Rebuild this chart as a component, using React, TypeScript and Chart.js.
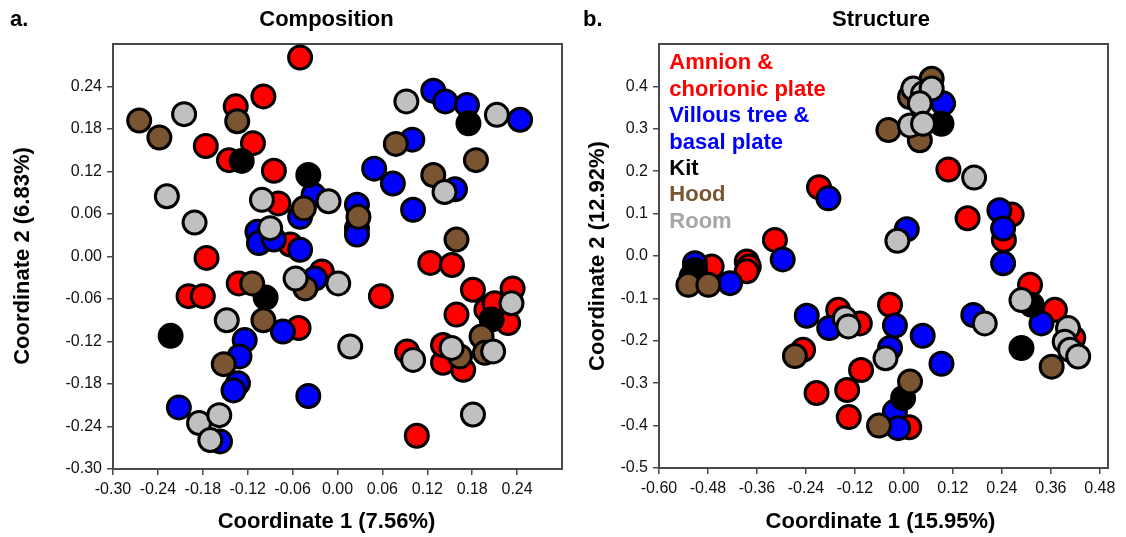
import React, { useEffect, useRef } from "react";
import { Chart, registerables } from "chart.js";

Chart.register(...registerables);

const FONT = '"Liberation Sans", Arial, Helvetica, sans-serif';

// ---------- Colours ----------
const RED = "#FF0000";
const BLUE = "#0000FF";
const BLACK = "#000000";
const BROWN = "#7B5431";
const GRAY = "#C0C0C0";
const ROOM_TEXT = "#A6A6A6";

// ---------- Panel a: Composition ----------
const compAmnion: number[][] = [
  [-0.05, 0.281], [-0.136, 0.212], [-0.099, 0.226], [-0.176, 0.156], [-0.113, 0.16],
  [-0.145, 0.136], [-0.085, 0.121], [-0.079, 0.075], [-0.063, 0.017], [-0.175, -0.002],
  [-0.199, -0.056], [-0.18, -0.056], [-0.132, -0.038], [-0.052, -0.101], [-0.021, -0.021],
  [0.058, -0.056], [0.124, -0.009], [0.153, -0.012], [0.181, -0.047], [0.159, -0.082],
  [0.234, -0.045], [0.199, -0.075], [0.21, -0.066], [0.228, -0.094], [0.093, -0.134],
  [0.141, -0.15], [0.141, -0.125], [0.168, -0.16], [0.106, -0.253],
];
const compVillous: number[][] = [
  [0.128, 0.234], [0.144, 0.219], [0.173, 0.214], [0.244, 0.193], [0.1, 0.165],
  [0.049, 0.124], [0.074, 0.103], [0.101, 0.066], [0.157, 0.095], [-0.032, 0.087],
  [-0.05, 0.056], [0.026, 0.073], [0.026, 0.04], [0.026, 0.031], [-0.107, 0.035],
  [-0.105, 0.019], [-0.085, 0.024], [-0.05, 0.0095], [-0.03, -0.031], [-0.073, -0.106],
  [-0.124, -0.118], [-0.131, -0.141], [-0.133, -0.179], [-0.139, -0.189], [-0.212, -0.213],
  [-0.157, -0.261], [-0.039, -0.197],
];
const compKit: number[][] = [
  [-0.128, 0.135], [-0.039, 0.115], [0.175, 0.188], [-0.223, -0.112], [-0.096, -0.058],
  [0.206, -0.089],
];
const compHood: number[][] = [
  [-0.265, 0.192], [-0.238, 0.168], [-0.134, 0.191], [-0.045, 0.068], [0.028, 0.056],
  [0.078, 0.159], [0.185, 0.136], [0.128, 0.115], [0.159, 0.024], [-0.114, -0.038],
  [-0.099, -0.09], [-0.043, -0.045], [-0.152, -0.152], [0.1925, -0.113], [0.197, -0.136],
  [0.1636, -0.141],
];
const compRoom: number[][] = [
  [-0.205, 0.201], [0.092, 0.219], [0.213, 0.2], [-0.228, 0.085], [-0.191, 0.048],
  [-0.101, 0.08], [-0.012, 0.078], [0.143, 0.091], [-0.09, 0.04], [-0.056, -0.031],
  [0.001, -0.038], [-0.148, -0.09], [0.017, -0.127], [0.2325, -0.066], [0.208, -0.134],
  [0.101, -0.146], [0.1525, -0.129], [0.181, -0.223], [-0.185, -0.235], [-0.158, -0.224],
  [-0.17, -0.259],
];
const compXTicks = [-0.3, -0.24, -0.18, -0.12, -0.06, 0, 0.06, 0.12, 0.18, 0.24];
const compYTicks = [-0.3, -0.24, -0.18, -0.12, -0.06, 0, 0.06, 0.12, 0.18, 0.24];

// ---------- Panel b: Structure ----------
const strucAmnion: number[][] = [
  [-0.208, 0.162], [0.109, 0.204], [0.156, 0.089], [0.264, 0.098], [0.245, 0.038],
  [-0.316, 0.038], [-0.471, -0.025], [-0.385, -0.013], [-0.38, -0.025], [-0.385, -0.036],
  [-0.161, -0.127], [-0.108, -0.159], [-0.247, -0.221], [-0.214, -0.323], [-0.139, -0.316],
  [-0.105, -0.269], [-0.135, -0.38], [-0.034, -0.115], [0.013, -0.404], [0.309, -0.068],
  [0.37, -0.127], [0.415, -0.193],
];
const strucVillous: number[][] = [
  [-0.185, 0.136], [0.234, 0.108], [0.243, 0.065], [0.007, 0.063], [0.096, 0.36],
  [-0.297, -0.008], [0.243, -0.017], [-0.512, -0.017], [-0.426, -0.064], [-0.238, -0.141],
  [-0.183, -0.17], [-0.022, -0.164], [-0.034, -0.217], [0.046, -0.188], [0.092, -0.254],
  [-0.022, -0.367], [-0.014, -0.406], [0.17, -0.139], [0.337, -0.159],
];
const strucKit: number[][] = [
  [0.092, 0.312], [-0.512, -0.033], [-0.52, -0.048], [0.313, -0.115], [0.288, -0.217],
  [-0.002, -0.335],
];
const strucHood: number[][] = [
  [-0.038, 0.297], [0.039, 0.273], [0.068, 0.418], [0.015, 0.375], [-0.528, -0.068],
  [-0.479, -0.068], [-0.267, -0.236], [0.015, -0.296], [-0.061, -0.4], [0.362, -0.261],
];
const strucRoom: number[][] = [
  [0.023, 0.395], [0.047, 0.383], [0.068, 0.395], [0.039, 0.36], [0.015, 0.308],
  [0.047, 0.312], [0.172, 0.185], [-0.016, 0.036], [-0.145, -0.147], [-0.136, -0.166],
  [-0.045, -0.241], [0.198, -0.159], [0.288, -0.104], [0.402, -0.17], [0.394, -0.202],
  [0.407, -0.221], [0.427, -0.237],
];
const strucXTicks = [-0.6, -0.48, -0.36, -0.24, -0.12, 0, 0.12, 0.24, 0.36, 0.48];
const strucYTicks = [-0.5, -0.4, -0.3, -0.2, -0.1, 0, 0.1, 0.2, 0.3, 0.4];

// ---------- Text ----------
const legendLines = ["Amnion &", "chorionic plate", "Villous tree &", "basal plate", "Kit", "Hood", "Room"];
const legendColors = [RED, RED, BLUE, BLUE, BLACK, BROWN, ROOM_TEXT];

type TextItem = {
  text: string;
  x: number;
  y: number;
  color?: string;
  size?: number;
  align?: CanvasTextAlign;
  rotate?: boolean;
};

const frameAndTextPlugin = {
  id: "frameAndText",
  beforeDatasetsDraw(chart: any) {
    const { ctx, chartArea } = chart;
    ctx.save();
    ctx.strokeStyle = "#4a4a4a";
    ctx.lineWidth = 2;
    ctx.strokeRect(chartArea.left, chartArea.top, chartArea.right - chartArea.left, chartArea.bottom - chartArea.top);
    ctx.restore();
  },
  afterDraw(chart: any, _args: any, opts: any) {
    const items: TextItem[] = (opts && opts.items) || [];
    const ctx = chart.ctx;
    items.forEach((it) => {
      ctx.save();
      ctx.font = `bold ${it.size || 22}px ${FONT}`;
      ctx.fillStyle = it.color || "#000";
      ctx.textAlign = it.align || "center";
      ctx.textBaseline = "middle";
      ctx.translate(it.x, it.y);
      if (it.rotate) ctx.rotate(-Math.PI / 2);
      ctx.fillText(it.text, 0, 0);
      ctx.restore();
    });
  },
};

function dataset(label: string, pts: number[][], color: string, order: number) {
  return {
    label,
    data: pts.map(([x, y]) => ({ x, y })),
    backgroundColor: color,
    borderColor: "#000",
    borderWidth: 3,
    pointRadius: 11.5,
    pointHoverRadius: 11.5,
    order,
  };
}

function axis(min: number, max: number, ticks: number[], digits: number, fitKey: "width" | "height", fitVal: number) {
  return {
    type: "linear" as const,
    min,
    max,
    afterBuildTicks: (s: any) => {
      s.ticks = ticks.map((v) => ({ value: v }));
    },
    afterFit: (s: any) => {
      s[fitKey] = fitVal;
    },
    ticks: {
      callback: (v: any) => Number(v).toFixed(digits),
      font: { family: FONT, size: 16 },
      color: "#111",
      padding: 5,
      maxRotation: 0,
      autoSkip: false,
    },
    grid: {
      display: true,
      drawOnChartArea: false,
      drawTicks: true,
      tickLength: 6,
      color: "#4a4a4a",
      lineWidth: 1.5,
    },
    border: { display: false },
    title: { display: false },
  };
}

function buildConfig(
  sets: any[],
  x: any,
  y: any,
  padding: any,
  items: TextItem[]
) {
  return {
    type: "scatter" as const,
    data: { datasets: sets },
    options: {
      responsive: false,
      animation: false as const,
      layout: { padding, autoPadding: false },
      scales: { x, y },
      plugins: {
        legend: { display: false },
        tooltip: { enabled: false },
        frameAndText: { items },
      },
      events: [],
    },
    plugins: [frameAndTextPlugin],
  };
}

export default function App() {
  const refA = useRef<HTMLCanvasElement>(null);
  const refB = useRef<HTMLCanvasElement>(null);

  useEffect(() => {
    const setsA = [
      dataset("Amnion & chorionic plate", compAmnion, RED, 5),
      dataset("Villous tree & basal plate", compVillous, BLUE, 4),
      dataset("Kit", compKit, BLACK, 3),
      dataset("Hood", compHood, BROWN, 2),
      dataset("Room", compRoom, GRAY, 1),
    ];
    const itemsA: TextItem[] = [
      { text: "a.", x: 10, y: 20, align: "left" },
      { text: "Composition", x: 326.5, y: 19.5 },
      { text: "Coordinate 1 (7.56%)", x: 326.5, y: 522 },
      { text: "Coordinate 2 (6.83%)", x: 23, y: 256, rotate: true },
    ];
    const chartA = new Chart(
      refA.current as HTMLCanvasElement,
      buildConfig(
        setsA,
        axis(-0.3, 0.3, compXTicks, 2, "height", 68),
        axis(-0.3, 0.3, compYTicks, 2, "width", 113),
        { left: 0, top: 44, right: 18, bottom: 0 },
        itemsA
      ) as any
    );

    const setsB = [
      dataset("Amnion & chorionic plate", strucAmnion, RED, 5),
      dataset("Villous tree & basal plate", strucVillous, BLUE, 4),
      dataset("Kit", strucKit, BLACK, 3),
      dataset("Hood", strucHood, BROWN, 2),
      dataset("Room", strucRoom, GRAY, 1),
    ];
    const legendY0 = 63.3;
    const legendStep = 26.4;
    const itemsB: TextItem[] = [
      { text: "b.", x: 3, y: 20, align: "left" },
      { text: "Structure", x: 301, y: 19.5 },
      { text: "Coordinate 1 (15.95%)", x: 300.5, y: 522 },
      { text: "Coordinate 2 (12.92%)", x: 18, y: 256, rotate: true },
      ...legendLines.map((t, i) => ({
        text: t,
        x: 89.3,
        y: legendY0 + legendStep * i,
        color: legendColors[i],
        align: "left" as CanvasTextAlign,
      })),
    ];
    const chartB = new Chart(
      refB.current as HTMLCanvasElement,
      buildConfig(
        setsB,
        axis(-0.6, 0.5, strucXTicks, 2, "height", 69),
        axis(-0.5, 0.5, strucYTicks, 1, "width", 79),
        { left: 0, top: 44, right: 18, bottom: 0 },
        itemsB
      ) as any
    );

    return () => {
      chartA.destroy();
      chartB.destroy();
    };
  }, []);

  return (
    <div style={{ position: "fixed", left: 0, top: 0, width: 1126, height: 537, background: "#fff" }}>
      <canvas ref={refA} width={580} height={537} style={{ position: "absolute", left: 0, top: 0, display: "block" }} />
      <canvas ref={refB} width={546} height={537} style={{ position: "absolute", left: 580, top: 0, display: "block" }} />
    </div>
  );
}
